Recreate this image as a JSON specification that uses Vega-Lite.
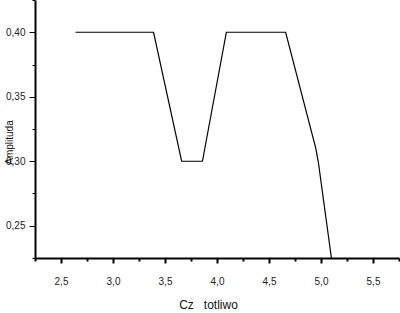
{
  "$schema": "https://vega.github.io/schema/vega-lite/v6.json",
  "width": 364,
  "height": 258,
  "autosize": {"type": "none"},
  "padding": {"left": 35, "top": 0, "right": 1, "bottom": 55},
  "background": "white",
  "config": {"view": {"stroke": null}},
  "data": {"values": [
    {"freq": 2.64, "amp": 0.40},
    {"freq": 3.39, "amp": 0.40},
    {"freq": 3.66, "amp": 0.30},
    {"freq": 3.86, "amp": 0.30},
    {"freq": 4.09, "amp": 0.40},
    {"freq": 4.66, "amp": 0.40},
    {"freq": 4.95, "amp": 0.31},
    {"freq": 4.975, "amp": 0.299},
    {"freq": 5.1, "amp": 0.225}
  ]},
  "mark": {"type": "line", "color": "black", "strokeWidth": 1.2, "clip": true},
  "encoding": {
    "x": {
      "field": "freq", "type": "quantitative",
      "scale": {"domain": [2.25, 5.75], "nice": false, "zero": false},
      "axis": {
        "values": [2.25, 2.5, 2.75, 3.0, 3.25, 3.5, 3.75, 4.0, 4.25, 4.5, 4.75, 5.0, 5.25, 5.5, 5.75],
        "labelExpr": "abs(datum.value*2 - round(datum.value*2)) < 0.001 ? replace(format(datum.value, '.1f'), '.', ',') : ''",
        "grid": false,
        "domainColor": "black", "domainWidth": 2,
        "tickColor": "black", "tickWidth": 2,
        "tickSize": {"condition": {"test": "abs(datum.value*2 - round(datum.value*2)) < 0.001", "value": 5}, "value": 3},
        "labelFont": "Liberation Sans", "labelFontSize": 10, "labelColor": "#222",
        "labelPadding": 13, "labelFlush": false, "labelOverlap": false,
        "title": "Cz\u00a0\u00a0\u00a0totliwo",
        "titleFont": "Liberation Sans", "titleFontSize": 12, "titleFontWeight": "normal", "titleColor": "#111",
        "titleX": 173, "titleY": 46, "titleAlign": "center", "titleBaseline": "middle"
      }
    },
    "y": {
      "field": "amp", "type": "quantitative",
      "scale": {"domain": [0.225, 0.425], "nice": false, "zero": false},
      "axis": {
        "values": [0.225, 0.25, 0.275, 0.3, 0.325, 0.35, 0.375, 0.4, 0.425],
        "labelExpr": "abs(datum.value*20 - round(datum.value*20)) < 0.001 ? replace(format(datum.value, '.2f'), '.', ',') : ''",
        "grid": false,
        "domainColor": "black", "domainWidth": 2,
        "tickColor": "black", "tickWidth": 1,
        "tickSize": {"condition": {"test": "abs(datum.value*20 - round(datum.value*20)) < 0.001", "value": 6}, "value": 3},
        "labelFont": "Liberation Sans", "labelFontSize": 10, "labelColor": "#222",
        "labelPadding": 4, "labelFlush": false, "labelOverlap": false,
        "title": "Amplituda",
        "titleFont": "Liberation Sans", "titleFontSize": 10, "titleFontWeight": "normal", "titleColor": "#111",
        "titleX": -26, "titleY": 142, "titleAngle": -90, "titleAlign": "center", "titleBaseline": "middle"
      }
    }
  }
}
